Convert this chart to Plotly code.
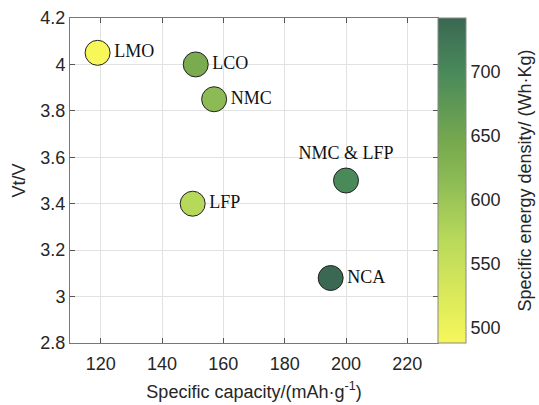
import plotly.graph_objects as go

materials = ["LMO", "LCO", "NMC", "LFP", "NMC & LFP", "NCA"]
capacity = [119, 151, 157, 150, 200, 195]
voltage = [4.05, 4.0, 3.85, 3.4, 3.5, 3.08]
energy = [488, 640, 615, 570, 700, 742]
label_pos = ["middle right", "middle right", "middle right", "middle right", "top center", "middle right"]
cbar_ticks = [500, 550, 600, 650, 700]
cbar_title = "Specific energy density/ (Wh·Kg)"

colorscale = [
    [0.0, "rgb(247,247,90)"],
    [0.32, "rgb(184,217,90)"],
    [0.5, "rgb(140,187,85)"],
    [0.6, "rgb(122,171,78)"],
    [0.83, "rgb(74,138,90)"],
    [1.0, "rgb(58,104,83)"],
]

font_sans = dict(family="Liberation Sans", size=18, color="#262626")

fig = go.Figure()
fig.add_trace(go.Scatter(
    x=capacity, y=voltage, text=materials, mode="markers+text",
    textposition=label_pos,
    textfont=dict(family="Liberation Serif", size=18, color="#111"),
    marker=dict(
        size=25, color=energy, colorscale=colorscale,
        line=dict(color="#222", width=1),
        colorbar=dict(
            x=1.0, xanchor="left", xpad=0, y=0.5, yanchor="middle",
            ypad=0, len=1, lenmode="fraction", thickness=28,
            outlinecolor="#888", outlinewidth=1,
            tickvals=cbar_ticks, ticks="",
            tickfont=font_sans,
        ),
    ),
    showlegend=False, cliponaxis=False,
))

axis_common = dict(
    showgrid=True, gridcolor="#e2e2e2", gridwidth=1,
    showline=True, linecolor="#777", linewidth=1, mirror="ticks",
    ticks="inside", ticklen=5, tickcolor="#555",
    tickfont=font_sans,
    zeroline=False,
)

fig.update_layout(
    width=539, height=405,
    margin=dict(l=70, r=101, t=18, b=62, autoexpand=False),
    paper_bgcolor="white", plot_bgcolor="white",
    xaxis=dict(range=[110, 230], tickvals=[120, 140, 160, 180, 200, 220],
               ticklabelstandoff=4,
               title=dict(text="Specific capacity/(mAh·g<sup>-1</sup>)", standoff=12,
                          font=font_sans),
               **axis_common),
    yaxis=dict(range=[2.8, 4.2], dtick=0.2, tick0=2.8,
               title=dict(text="Vt/V", standoff=10, font=font_sans),
               **axis_common),
    annotations=[dict(
        text=cbar_title, xref="paper", yref="paper", x=1.234, y=0.5,
        xanchor="center", yanchor="middle", textangle=-90, showarrow=False,
        font=font_sans,
    )],
)

fig.write_html(
    "out.html",
    config={"displayModeBar": False},
    post_script="document.body.style.margin='0';document.body.style.overflow='hidden';",
)
